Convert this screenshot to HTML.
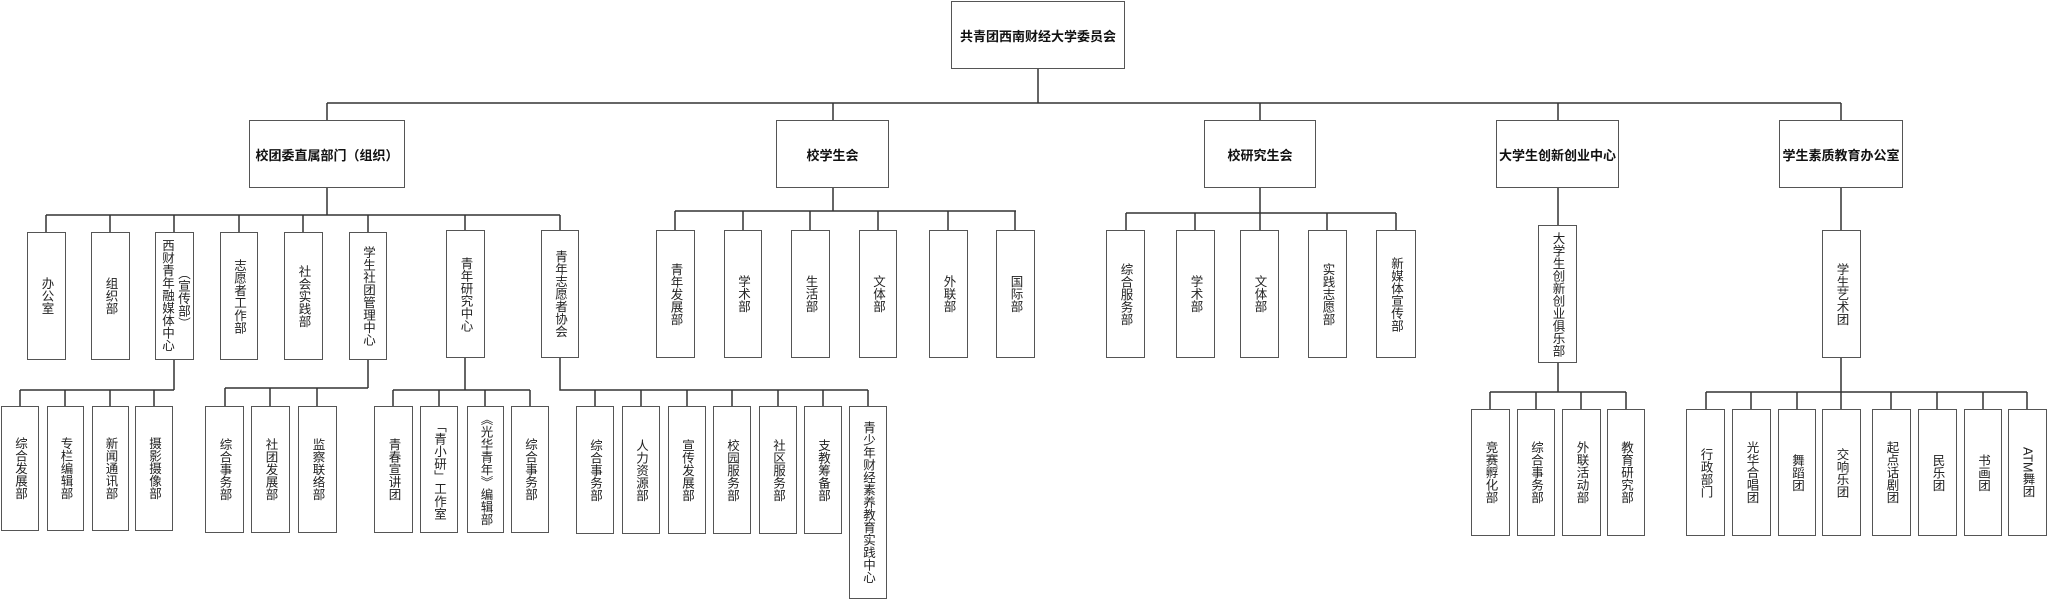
<!DOCTYPE html>
<html><head><meta charset="utf-8"><style>
body{margin:0;background:#fff;}
#c{position:relative;width:2048px;height:599px;overflow:hidden;background:#fff;font-family:"Liberation Sans","Noto Sans CJK SC",sans-serif;color:#222;}
.b{position:absolute;box-sizing:border-box;border:1.5px solid #555;background:#fff;display:flex;align-items:center;justify-content:center;}
.h{font-weight:bold;font-size:13px;color:#111;white-space:nowrap;}
.v{writing-mode:vertical-rl;text-orientation:upright;font-size:12.5px;line-height:14px;letter-spacing:0px;}
svg{position:absolute;left:0;top:0;}
</style></head><body><div id="c">
<svg width="2048" height="599" fill="none" stroke="#333" stroke-width="1.5">
<path d="M1038 69V103M327 103H1841M327 103V120M833 103V120M1260 103V120M1558 103V120M1841 103V120"/>
<path d="M327 188V215M46 215H560M46 215V232M110 215V232M174 215V232M239 215V232M303 215V232M368 215V232M465 215V230M560 215V230"/>
<path d="M833 188V211M675 211H1016M675 211V230M743 211V230M810 211V230M878 211V230M948 211V230M1015 211V230"/>
<path d="M1260 188V213M1126 213H1396M1126 213V230M1195 213V230M1260 213V230M1327 213V230M1396 213V230"/>
<path d="M1558 188V225M1841 188V230"/>
<path d="M174 360V390M20 390H174M20 390V406M65 390V406M110 390V406M154 390V406"/>
<path d="M368 360V388M225 388H368M225 388V406M270 388V406M317 388V406"/>
<path d="M465 358V390M393 390H530M393 390V406M439 390V406M485 390V406M530 390V406"/>
<path d="M560 358V390H868M595 390V406M641 390V406M687 390V406M732 390V406M778 390V406M823 390V406M868 390V406"/>
<path d="M1558 363V392M1490 392H1626M1490 392V409M1536 392V409M1581 392V409M1626 392V409"/>
<path d="M1841 358V392M1706 392H2027M1706 392V409M1751 392V409M1797 392V409M1841 392V409M1891 392V409M1937 392V409M1983 392V409M2027 392V409"/>
</svg>
<div class="b h" style="left:951px;top:1px;width:174px;height:68px">共青团西南财经大学委员会</div>
<div class="b h" style="left:249px;top:120px;width:156px;height:68px">校团委直属部门（组织）</div>
<div class="b h" style="left:776px;top:120px;width:113px;height:68px">校学生会</div>
<div class="b h" style="left:1204px;top:120px;width:112px;height:68px">校研究生会</div>
<div class="b h" style="left:1496px;top:120px;width:123px;height:68px">大学生创新创业中心</div>
<div class="b h" style="left:1779px;top:120px;width:124px;height:68px">学生素质教育办公室</div>

<div class="b v" style="left:27px;top:232px;width:39px;height:128px">办公室</div>
<div class="b v" style="left:91px;top:232px;width:39px;height:128px">组织部</div>
<div class="b" style="left:155px;top:232px;width:39px;height:128px;display:block">
<div class="v" style="position:absolute;left:4px;top:6px">西财青年融媒体中心</div>
<div class="v" style="position:absolute;left:20px;top:34px">（宣传部）</div></div>
<div class="b v" style="left:220px;top:232px;width:38px;height:128px">志愿者工作部</div>
<div class="b v" style="left:284px;top:232px;width:39px;height:128px">社会实践部</div>
<div class="b v" style="left:349px;top:232px;width:38px;height:128px">学生社团管理中心</div>
<div class="b v" style="left:446px;top:230px;width:39px;height:128px">青年研究中心</div>
<div class="b v" style="left:541px;top:230px;width:38px;height:128px">青年志愿者协会</div>

<div class="b v" style="left:656px;top:230px;width:39px;height:128px">青年发展部</div>
<div class="b v" style="left:724px;top:230px;width:38px;height:128px">学术部</div>
<div class="b v" style="left:791px;top:230px;width:39px;height:128px">生活部</div>
<div class="b v" style="left:859px;top:230px;width:38px;height:128px">文体部</div>
<div class="b v" style="left:929px;top:230px;width:39px;height:128px">外联部</div>
<div class="b v" style="left:996px;top:230px;width:39px;height:128px">国际部</div>

<div class="b v" style="left:1106px;top:230px;width:39px;height:128px">综合服务部</div>
<div class="b v" style="left:1176px;top:230px;width:39px;height:128px">学术部</div>
<div class="b v" style="left:1240px;top:230px;width:39px;height:128px">文体部</div>
<div class="b v" style="left:1308px;top:230px;width:39px;height:128px">实践志愿部</div>
<div class="b v" style="left:1376px;top:230px;width:40px;height:128px">新媒体宣传部</div>

<div class="b v" style="left:1538px;top:225px;width:39px;height:138px">大学生创新创业俱乐部</div>
<div class="b v" style="left:1822px;top:230px;width:39px;height:128px">学生艺术团</div>

<div class="b v" style="left:1px;top:406px;width:38px;height:125px">综合发展部</div>
<div class="b v" style="left:47px;top:406px;width:37px;height:125px">专栏编辑部</div>
<div class="b v" style="left:92px;top:406px;width:37px;height:125px">新闻通讯部</div>
<div class="b v" style="left:135px;top:406px;width:38px;height:125px">摄影摄像部</div>

<div class="b v" style="left:205px;top:406px;width:39px;height:127px">综合事务部</div>
<div class="b v" style="left:251px;top:406px;width:39px;height:127px">社团发展部</div>
<div class="b v" style="left:298px;top:406px;width:39px;height:127px">监察联络部</div>

<div class="b v" style="left:374px;top:406px;width:39px;height:127px">青春宣讲团</div>
<div class="b v" style="left:420px;top:406px;width:38px;height:127px">「青小研」工作室</div>
<div class="b v" style="left:467px;top:406px;width:37px;height:127px">《光华青年》编辑部</div>
<div class="b v" style="left:511px;top:406px;width:38px;height:127px">综合事务部</div>

<div class="b v" style="left:576px;top:406px;width:38px;height:128px">综合事务部</div>
<div class="b v" style="left:622px;top:406px;width:38px;height:128px">人力资源部</div>
<div class="b v" style="left:668px;top:406px;width:38px;height:128px">宣传发展部</div>
<div class="b v" style="left:713px;top:406px;width:38px;height:128px">校园服务部</div>
<div class="b v" style="left:759px;top:406px;width:38px;height:128px">社区服务部</div>
<div class="b v" style="left:804px;top:406px;width:38px;height:128px">支教筹备部</div>
<div class="b v" style="left:849px;top:406px;width:38px;height:193px;justify-content:flex-start;padding-top:14px">青少年财经素养教育实践中心</div>

<div class="b v" style="left:1471px;top:409px;width:39px;height:127px">竞赛孵化部</div>
<div class="b v" style="left:1517px;top:409px;width:38px;height:127px">综合事务部</div>
<div class="b v" style="left:1562px;top:409px;width:39px;height:127px">外联活动部</div>
<div class="b v" style="left:1607px;top:409px;width:38px;height:127px">教育研究部</div>

<div class="b v" style="left:1686px;top:409px;width:39px;height:127px">行政部门</div>
<div class="b v" style="left:1732px;top:409px;width:39px;height:127px">光华合唱团</div>
<div class="b v" style="left:1778px;top:409px;width:38px;height:127px">舞蹈团</div>
<div class="b v" style="left:1822px;top:409px;width:39px;height:127px">交响乐团</div>
<div class="b v" style="left:1872px;top:409px;width:39px;height:127px">起点话剧团</div>
<div class="b v" style="left:1918px;top:409px;width:39px;height:127px">民乐团</div>
<div class="b v" style="left:1964px;top:409px;width:38px;height:127px">书画团</div>
<div class="b" style="left:2008px;top:409px;width:39px;height:127px"><span class="v" style="text-orientation:mixed">ATM舞团</span></div>
</div></body></html>
